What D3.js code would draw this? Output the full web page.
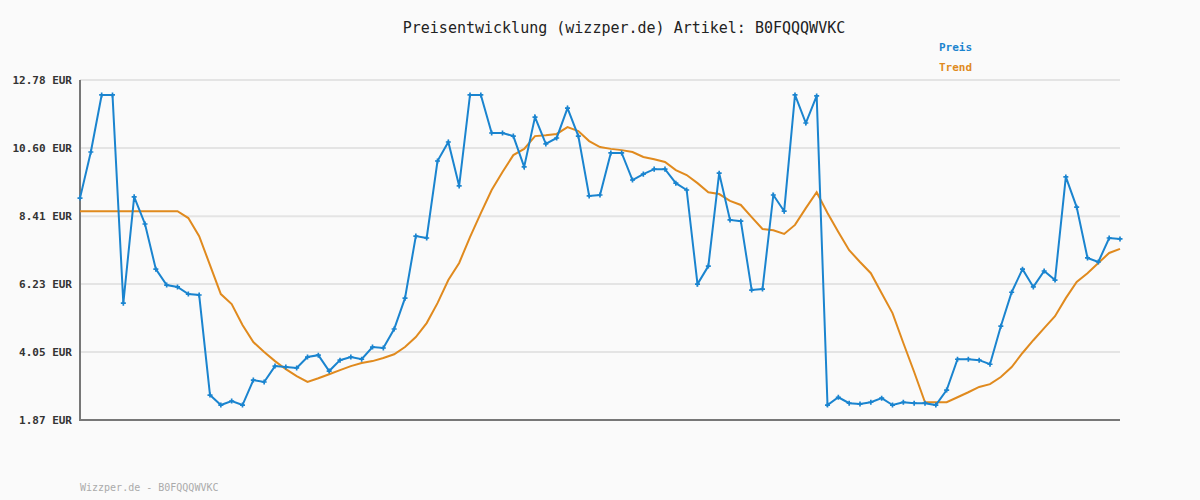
<!DOCTYPE html>
<html>
<head>
<meta charset="utf-8">
<script src="https://cdn.jsdelivr.net/npm/d3@7"></script>
<style>
  body { margin: 0; background: #fafafa; }
  text { font-family: "DejaVu Sans Mono", monospace; }
</style>
</head>
<body>
<svg id="chart" width="1200" height="500"></svg>
<script>
// price series (EUR)
const preis = [8.99,10.47,12.30,12.30,5.62,9.03,8.16,6.71,6.20,6.14,
  5.91,5.88,2.67,2.35,2.48,2.35,3.15,3.09,3.60,3.57,
  3.54,3.89,3.95,3.44,3.79,3.89,3.82,4.21,4.18,4.79,
  5.78,7.77,7.71,10.18,10.79,9.38,12.30,12.30,11.08,11.08,
  10.98,9.99,11.59,10.73,10.92,11.88,10.98,9.06,9.09,10.44,
  10.44,9.57,9.76,9.92,9.92,9.47,9.25,6.23,6.81,9.79,
  8.29,8.25,6.04,6.07,9.09,8.57,12.30,11.40,12.27,2.35,
  2.60,2.41,2.38,2.44,2.57,2.35,2.44,2.41,2.41,2.35,
  2.83,3.82,3.82,3.79,3.66,4.88,5.97,6.71,6.14,6.65,
  6.36,9.67,8.70,7.07,6.94,7.71,7.68];
const trend = [8.57,8.57,8.57,8.57,8.57,8.57,8.57,8.57,8.57,8.57,
  8.35,7.77,6.84,5.91,5.59,4.92,4.37,4.05,3.76,3.50,
  3.28,3.09,3.21,3.34,3.47,3.60,3.70,3.76,3.86,3.98,
  4.21,4.53,4.98,5.62,6.36,6.91,7.74,8.51,9.25,9.83,
  10.37,10.57,10.98,11.01,11.05,11.27,11.14,10.82,10.63,10.57,
  10.53,10.47,10.31,10.24,10.15,9.89,9.73,9.47,9.18,9.12,
  8.90,8.77,8.38,8.00,7.96,7.84,8.13,8.67,9.18,8.51,
  7.90,7.32,6.94,6.58,5.94,5.30,4.34,3.41,2.44,2.44,
  2.44,2.60,2.76,2.93,3.02,3.25,3.57,4.02,4.43,4.82,
  5.20,5.78,6.30,6.58,6.91,7.23,7.36];
const yTicks = [1.87, 4.05, 6.23, 8.41, 10.60, 12.78];

const svg = d3.select('#chart');
const marginLeft = 80, marginRight = 80, marginTop = 80, marginBottom = 80;
const W = 1200, H = 500;
const blue = '#1a84cf', orange = '#e08a1e';

svg.append('rect').attr('width', W).attr('height', H).attr('fill', '#fafafa');

const x = d3.scaleLinear().domain([0, preis.length - 1]).range([marginLeft, W - marginRight]);
const y = d3.scaleLinear().domain([1.87, 12.78]).range([H - marginBottom, marginTop]);

// grid
svg.append('g').selectAll('line').data(yTicks).join('line')
  .attr('x1', marginLeft).attr('x2', W - marginRight)
  .attr('y1', d => y(d)).attr('y2', d => y(d))
  .attr('stroke', '#e4e4e4').attr('stroke-width', 2);

// y labels
svg.append('g').selectAll('text').data(yTicks).join('text')
  .attr('x', 72).attr('y', d => y(d) + 4)
  .attr('text-anchor', 'end').attr('font-size', 11).attr('font-weight', 'bold')
  .attr('fill', '#333').text(d => d.toFixed(2) + ' EUR');

// axes
svg.append('line').attr('x1', marginLeft).attr('x2', marginLeft)
  .attr('y1', marginTop).attr('y2', H - marginBottom + 1).attr('stroke', '#777').attr('stroke-width', 2);
svg.append('line').attr('x1', marginLeft - 1).attr('x2', W - marginRight)
  .attr('y1', H - marginBottom).attr('y2', H - marginBottom).attr('stroke', '#777').attr('stroke-width', 2);

const line = d3.line().x((d, i) => x(i)).y(d => y(d));

svg.append('path').datum(trend).attr('d', line)
  .attr('fill', 'none').attr('stroke', orange).attr('stroke-width', 2);
svg.append('path').datum(preis).attr('d', line)
  .attr('fill', 'none').attr('stroke', blue).attr('stroke-width', 2);

svg.append('g').selectAll('path').data(preis).join('path')
  .attr('transform', (d, i) => `translate(${x(i)},${y(d)})`)
  .attr('d', d3.symbol(d3.symbolCross, 14))
  .attr('fill', blue);

// title, legend, footer
svg.append('text').attr('x', 624).attr('y', 33).attr('text-anchor', 'middle')
  .attr('font-size', 15).attr('fill', '#222').text('Preisentwicklung (wizzper.de) Artikel: B0FQQQWVKC');
svg.append('text').attr('x', 939).attr('y', 51).attr('font-size', 11).attr('font-weight', 'bold')
  .attr('fill', blue).text('Preis');
svg.append('text').attr('x', 939).attr('y', 71).attr('font-size', 11).attr('font-weight', 'bold')
  .attr('fill', orange).text('Trend');
svg.append('text').attr('x', 80).attr('y', 491).attr('font-size', 10)
  .attr('fill', '#aaa').text('Wizzper.de - B0FQQQWVKC');
</script>
</body>
</html>
